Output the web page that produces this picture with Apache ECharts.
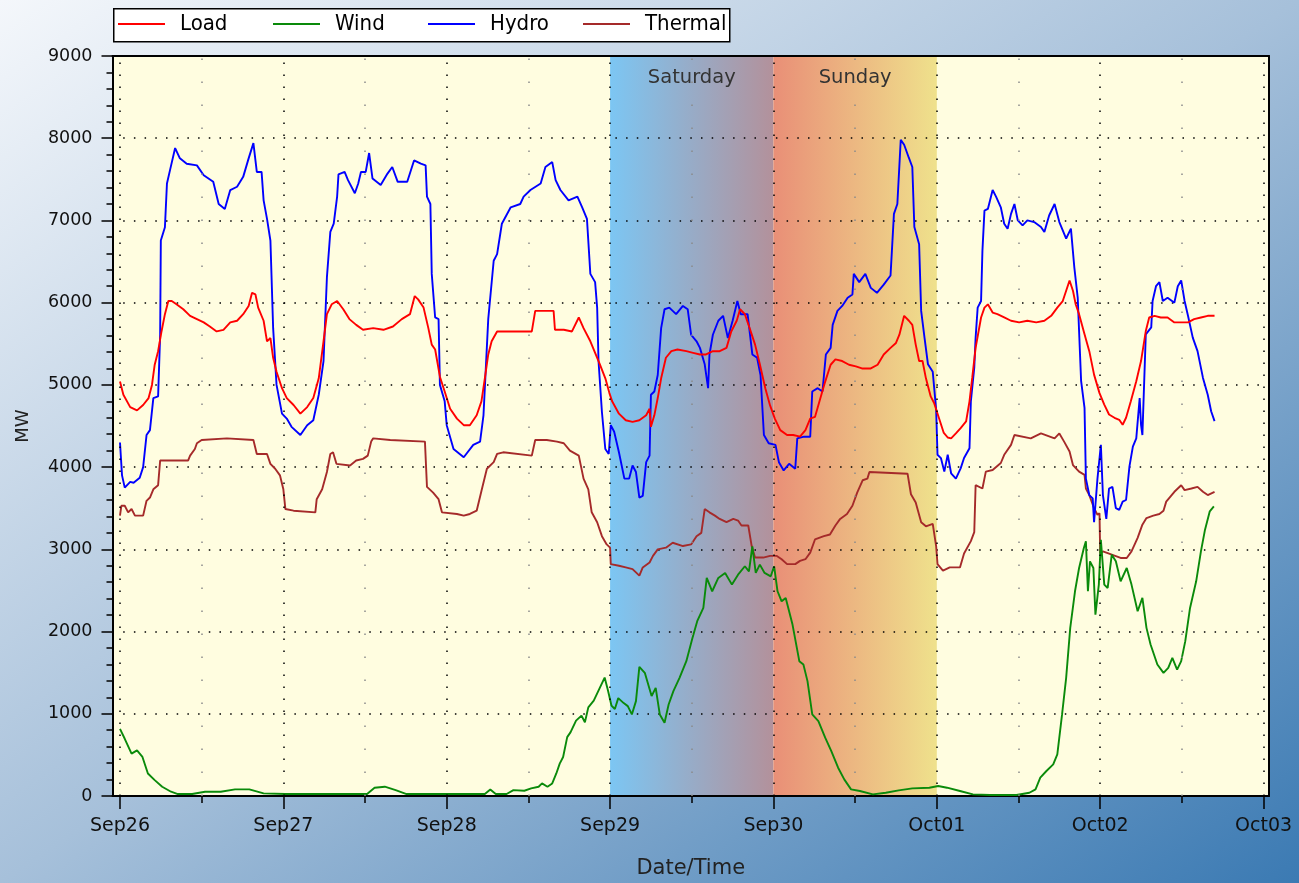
<!DOCTYPE html>
<html><head><meta charset="utf-8">
<script src="https://cdn.jsdelivr.net/npm/echarts@6/dist/echarts.min.js"></script>
<style>
html,body{margin:0;padding:0;width:1299px;height:883px;overflow:hidden;}
#c{width:1299px;height:883px;background:linear-gradient(to bottom right,#f4f7fb 0%,#a6c0da 50%,#3b7ab3 100%);}
</style></head><body><div id="c"></div>
<script>
// hours since Sep26 00:00
const dayTicks = [0,24,48,72,96,120,144,168];
const dayLabels = ['Sep26','Sep27','Sep28','Sep29','Sep30','Oct01','Oct02','Oct03'];
const halfDayTicks = [12,36,60,84,108,132,156];
const weekendBands = [{name:'Saturday',start:72,end:96},{name:'Sunday',start:96,end:120}];
const seriesNames = ['Load','Wind','Hydro','Thermal'];

const loadData = [[0,5040],[0.5,4880],[1.5,4730],[2.5,4690],[3.4,4755],[4.2,4840],[4.7,5000],[5.1,5245],[5.6,5410],[6.1,5650],[6.6,5860],[7.1,6020],[7.6,6020],[8.3,5980],[9.3,5920],[10.3,5840],[11.3,5800],[12.3,5760],[13.2,5710],[14.2,5650],[15.2,5670],[16.2,5760],[17.2,5780],[18.1,5860],[18.9,5960],[19.4,6120],[19.9,6100],[20.3,5940],[21.1,5780],[21.6,5530],[22.1,5570],[22.5,5330],[23.0,5160],[23.8,4960],[24.5,4840],[25.5,4755],[26.5,4650],[27.5,4730],[28.4,4840],[29.2,5080],[29.9,5530],[30.4,5860],[31.1,5980],[31.9,6020],[32.8,5920],[33.7,5800],[34.7,5730],[35.7,5670],[37.2,5690],[38.7,5670],[40.1,5710],[41.4,5800],[42.6,5860],[43.3,6080],[43.8,6040],[44.6,5940],[45.3,5690],[45.8,5490],[46.3,5430],[47.0,5100],[47.7,4920],[48.5,4710],[49.5,4590],[50.5,4510],[51.4,4510],[52.4,4630],[53.1,4800],[53.6,5080],[54.1,5370],[54.6,5530],[55.4,5650],[56.3,5650],[58.3,5650],[60.5,5650],[61.0,5900],[62.2,5900],[63.7,5900],[63.9,5670],[65.2,5670],[66.4,5650],[67.4,5820],[68.1,5690],[69.1,5530],[69.8,5390],[70.5,5250],[71.3,5080],[71.9,4900],[72.3,4800],[73.3,4650],[74.3,4570],[75.3,4550],[76.3,4570],[77.3,4630],[77.8,4710],[78.0,4490],[78.5,4630],[79.0,4840],[79.5,5080],[80.2,5330],[81.0,5410],[81.9,5430],[83.2,5410],[84.2,5390],[85.2,5370],[86.1,5370],[87.1,5410],[88.1,5410],[89.1,5450],[89.8,5650],[90.6,5780],[91.1,5920],[91.8,5860],[92.5,5690],[93.3,5490],[94.0,5250],[94.8,4960],[95.5,4750],[96.2,4590],[97.0,4450],[98.0,4390],[98.9,4390],[99.9,4370],[100.7,4450],[101.4,4590],[102.1,4610],[102.9,4840],[103.6,5040],[104.4,5245],[105.1,5310],[106.1,5290],[107.1,5245],[108.1,5225],[109.0,5200],[110.3,5200],[111.3,5245],[112.2,5370],[113.2,5450],[114.0,5510],[114.5,5610],[115.2,5840],[115.9,5780],[116.4,5730],[116.9,5490],[117.4,5290],[117.9,5290],[118.4,5080],[119.1,4860],[119.6,4780],[120.3,4600],[121.0,4420],[121.6,4360],[122.1,4350],[122.8,4410],[123.5,4475],[124.3,4555],[124.8,4800],[125.2,5085],[125.7,5450],[126.5,5820],[127.0,5940],[127.5,5980],[128.2,5880],[128.9,5860],[129.9,5820],[130.9,5780],[132.1,5760],[133.3,5780],[134.6,5760],[135.8,5780],[136.8,5840],[137.7,5940],[138.5,6020],[139.0,6145],[139.5,6270],[140.0,6145],[140.4,5980],[140.9,5860],[141.7,5615],[142.4,5410],[143.1,5125],[143.9,4900],[144.6,4760],[145.3,4640],[146.1,4600],[146.8,4575],[147.3,4515],[147.8,4600],[148.5,4800],[149.3,5045],[150.0,5290],[150.7,5655],[151.2,5820],[152.0,5840],[152.9,5820],[153.9,5820],[154.9,5760],[155.9,5760],[156.9,5760],[157.8,5800],[158.8,5820],[159.8,5840],[160.8,5840]];

const windData = [[0,817],[0.7,696],[1.7,515],[2.5,555],[3.3,475],[4.1,274],[5.1,193],[6.2,113],[7.5,52],[8.5,24],[10.6,24],[12.5,52],[14.8,52],[16.9,80],[19.0,80],[21.1,32],[24.3,24],[28.5,24],[36.3,24],[37.4,100],[38.9,113],[40.5,72],[42.1,24],[49.4,24],[53.6,24],[54.4,80],[55.2,24],[56.8,24],[57.8,72],[59.4,64],[60.4,92],[61.5,113],[62.0,153],[62.8,113],[63.5,153],[64.1,274],[64.6,394],[65.1,475],[65.7,716],[66.2,777],[67.0,917],[67.8,978],[68.3,897],[68.8,1078],[69.6,1159],[70.4,1300],[71.2,1440],[71.7,1280],[72.2,1100],[72.7,1058],[73.2,1190],[74.0,1130],[74.6,1093],[75.2,992],[75.8,1154],[76.3,1570],[77.1,1498],[78.1,1215],[78.7,1316],[79.3,992],[80.0,891],[80.6,1113],[81.3,1275],[82.2,1437],[83.2,1640],[84.1,1923],[84.8,2126],[85.7,2287],[86.2,2652],[87.0,2490],[87.9,2652],[88.9,2713],[89.9,2571],[90.8,2692],[91.8,2794],[92.4,2733],[92.9,3036],[93.4,2713],[94.0,2814],[94.7,2713],[95.6,2672],[96.1,2794],[96.6,2490],[97.2,2368],[97.8,2409],[98.8,2085],[99.8,1640],[100.4,1599],[101.0,1397],[101.7,992],[102.6,911],[103.6,709],[104.5,547],[105.5,344],[106.4,202],[107.4,81],[108.7,61],[110.6,20],[112.5,40],[114.4,69],[116.4,93],[118.9,101],[120.2,121],[121.5,101],[123.4,61],[125.3,20],[127.8,12],[131.7,12],[133.6,40],[134.5,81],[135.2,223],[136.1,304],[137.1,385],[137.7,506],[138.4,992],[139.0,1437],[139.6,2045],[140.3,2490],[140.9,2773],[141.6,3016],[141.9,3097],[142.2,2490],[142.5,2854],[143.0,2773],[143.3,2206],[143.8,2571],[144.1,3117],[144.6,2571],[145.1,2530],[145.7,2935],[146.3,2854],[147.0,2611],[147.9,2773],[148.6,2571],[149.5,2247],[150.2,2409],[150.8,2045],[151.4,1842],[152.4,1599],[153.3,1498],[154.0,1559],[154.6,1680],[155.3,1538],[155.9,1640],[156.5,1883],[157.2,2287],[158.1,2611],[158.8,2976],[159.4,3239],[160.1,3462],[160.7,3522]];

const hydroData = [[0,4300],[0.3,3900],[0.7,3750],[1.5,3820],[2.0,3810],[2.9,3870],[3.4,4000],[3.9,4390],[4.4,4450],[4.9,4840],[5.6,4860],[5.9,5610],[6.0,6755],[6.6,6918],[6.9,7450],[7.4,7630],[8.1,7880],[8.8,7755],[9.8,7690],[11.3,7670],[12.3,7550],[13.7,7470],[14.5,7200],[15.4,7140],[16.2,7370],[17.2,7410],[18.1,7530],[18.9,7755],[19.6,7940],[20.1,7590],[20.8,7590],[21.1,7245],[21.6,7020],[22.1,6755],[22.5,5690],[23.0,5000],[23.8,4650],[24.5,4590],[25.2,4490],[26.5,4390],[27.5,4510],[28.4,4570],[29.2,4880],[29.9,5290],[30.4,6310],[30.9,6860],[31.4,6960],[31.9,7290],[32.1,7560],[33.0,7590],[33.5,7490],[34.5,7330],[35.0,7450],[35.4,7590],[36.1,7590],[36.6,7820],[37.1,7510],[38.3,7430],[39.3,7570],[40.0,7650],[40.8,7470],[42.2,7470],[43.2,7730],[44.2,7690],[44.9,7670],[45.1,7290],[45.6,7200],[45.8,6350],[46.3,5820],[46.8,5800],[47.0,5000],[47.7,4800],[48.0,4510],[49.0,4220],[50.5,4120],[51.9,4270],[52.9,4310],[53.4,4630],[54.1,5800],[54.9,6510],[55.4,6590],[56.1,6960],[57.4,7160],[58.8,7200],[59.3,7290],[60.3,7370],[61.8,7450],[62.5,7650],[63.5,7710],[64.0,7490],[64.7,7370],[65.9,7245],[67.2,7290],[67.9,7160],[68.6,7020],[69.1,6350],[69.8,6250],[70.1,5940],[70.3,5290],[70.8,4670],[71.3,4220],[71.8,4160],[72.1,4510],[72.6,4430],[73.3,4180],[74.1,3860],[74.8,3860],[75.3,4020],[75.8,3940],[76.3,3630],[76.8,3650],[77.3,4060],[77.8,4140],[78.0,4880],[78.5,4920],[79.0,5120],[79.5,5690],[80.0,5920],[80.7,5940],[81.7,5860],[82.7,5960],[83.4,5920],[83.9,5610],[84.7,5530],[85.2,5450],[85.9,5250],[86.4,4960],[86.6,5370],[87.1,5610],[87.9,5780],[88.6,5840],[89.3,5570],[90.0,5780],[90.7,6020],[91.2,5860],[92.2,5860],[92.9,5370],[93.6,5330],[94.1,5120],[94.6,4390],[95.3,4290],[96.3,4270],[96.8,4060],[97.5,3960],[98.3,4040],[99.2,3980],[99.5,4350],[100.5,4370],[101.4,4370],[101.7,4920],[102.5,4960],[103.2,4920],[103.7,5370],[104.4,5450],[104.7,5730],[105.4,5900],[106.1,5960],[106.9,6060],[107.6,6100],[107.8,6350],[108.6,6250],[109.5,6350],[110.3,6180],[111.2,6120],[112.2,6220],[113.2,6330],[113.4,6630],[113.7,7080],[114.2,7200],[114.7,7980],[115.2,7920],[115.9,7760],[116.4,7650],[116.7,6920],[117.4,6710],[117.7,5900],[118.2,5570],[118.7,5250],[119.4,5160],[119.9,4700],[120.1,4150],[120.6,4110],[121.1,3945],[121.6,4150],[122.1,3925],[122.8,3860],[123.5,3985],[124.0,4110],[124.8,4230],[125.0,4800],[125.5,5210],[125.7,5575],[126.0,5940],[126.5,6020],[126.7,6630],[127.0,7120],[127.5,7140],[128.2,7370],[128.7,7290],[129.4,7160],[129.9,6960],[130.4,6900],[130.9,7080],[131.4,7200],[131.9,7000],[132.6,6940],[133.3,7000],[134.3,6980],[135.3,6920],[135.8,6860],[136.5,7060],[137.3,7200],[138.0,6980],[138.5,6880],[139.0,6780],[139.7,6900],[140.2,6430],[140.7,6060],[141.2,5045],[141.7,4720],[141.9,3860],[142.4,3660],[142.9,3620],[143.1,3330],[143.6,3860],[144.1,4270],[144.4,3660],[144.9,3370],[145.3,3740],[145.8,3760],[146.3,3500],[146.8,3480],[147.3,3580],[147.8,3600],[148.3,4010],[148.8,4250],[149.3,4350],[149.8,4840],[150.0,4515],[150.2,4390],[150.4,4880],[150.7,5615],[151.5,5700],[151.7,6020],[152.2,6200],[152.7,6250],[153.2,6020],[153.9,6060],[154.9,6000],[155.4,6200],[155.9,6270],[156.4,6020],[156.9,5840],[157.6,5575],[158.3,5410],[159.1,5085],[159.8,4880],[160.3,4680],[160.8,4560]];

const thermalData = [[0,3410],[0.2,3530],[0.7,3530],[1.2,3450],[1.7,3490],[2.2,3410],[3.4,3410],[3.9,3590],[4.4,3630],[4.9,3730],[5.6,3780],[5.9,4080],[10.0,4080],[10.3,4140],[11.0,4220],[11.3,4290],[12.0,4330],[15.7,4350],[19.6,4330],[20.1,4160],[21.6,4160],[22.1,4040],[22.8,3980],[23.5,3900],[24.0,3730],[24.3,3490],[25.5,3470],[28.7,3450],[28.9,3610],[29.7,3730],[30.4,3940],[30.9,4160],[31.3,4180],[31.8,4040],[33.8,4020],[34.7,4080],[35.7,4100],[36.4,4140],[36.9,4310],[37.2,4350],[39.7,4330],[44.8,4310],[45.1,3760],[46.0,3690],[46.8,3610],[47.3,3450],[49.5,3430],[50.5,3410],[51.4,3430],[52.4,3470],[53.1,3710],[53.9,3980],[54.9,4060],[55.4,4160],[56.3,4180],[60.5,4140],[61.0,4330],[62.7,4330],[64.2,4310],[65.2,4290],[66.1,4200],[67.4,4140],[68.1,3860],[68.8,3730],[69.3,3450],[70.1,3330],[70.8,3160],[71.5,3060],[72.0,3020],[72.1,2820],[73.3,2800],[74.3,2780],[75.3,2760],[76.3,2680],[76.8,2780],[77.8,2840],[78.3,2920],[79.0,3000],[80.2,3020],[81.2,3080],[82.7,3040],[83.9,3060],[84.7,3160],[85.4,3200],[85.9,3490],[86.6,3450],[87.4,3410],[88.1,3370],[89.1,3330],[90.1,3370],[90.8,3350],[91.3,3290],[92.3,3290],[92.8,3040],[93.3,2900],[94.5,2900],[95.5,2920],[96.5,2920],[97.2,2880],[98.0,2820],[99.2,2820],[99.9,2860],[100.7,2880],[101.4,2960],[102.1,3120],[103.4,3160],[104.3,3180],[105.1,3290],[105.8,3370],[106.8,3430],[107.6,3530],[108.3,3690],[109.1,3840],[109.8,3860],[110.1,3940],[115.7,3920],[116.2,3670],[116.9,3570],[117.7,3330],[118.4,3280],[119.4,3310],[119.9,3040],[120.1,2820],[120.9,2740],[121.9,2780],[123.4,2780],[124.0,2950],[125.0,3100],[125.5,3210],[125.7,3780],[126.7,3740],[127.2,3945],[128.2,3965],[129.4,4050],[129.9,4150],[130.9,4270],[131.4,4390],[133.8,4350],[135.3,4410],[137.3,4350],[138.0,4410],[138.7,4310],[139.5,4190],[140.0,4025],[140.9,3945],[141.7,3905],[141.9,3740],[142.4,3660],[143.1,3500],[143.6,3420],[143.9,3440],[144.0,2950],[144.4,2975],[145.7,2935],[147.0,2895],[147.9,2895],[148.6,2975],[149.5,3140],[150.2,3300],[150.8,3380],[151.8,3410],[152.7,3430],[153.3,3470],[153.7,3580],[154.9,3700],[155.9,3780],[156.4,3720],[157.4,3740],[158.3,3760],[159.1,3700],[159.8,3660],[160.8,3700]];

const F = 'DejaVu Sans';
const FC = '"DejaVu Sans Condensed", "DejaVu Sans"';
const chart = echarts.init(document.getElementById('c'), null, {renderer:'canvas'});
const X_MIN = -1.1, X_MAX = 168.8;
const legendSlot = 155;   // spacing of legend entries
const dotted = (gap) => [1.5, gap];
function lineSeries(name, data, color){
  return {name, type:'line', data, showSymbol:false, symbol:'none', z:3,
    lineStyle:{color, width:1.9}, itemStyle:{color}, emphasis:{disabled:true}, animation:false};
}
const legends = seriesNames.map((n,i)=>({
  left:118 + i*legendSlot, top:13, orient:'horizontal', selectedMode:false, z:6,
  padding:0, itemWidth:47, itemHeight:2, icon:'rect',
  textStyle:{fontSize:22, color:'#000', fontFamily:FC, padding:[0,0,0,10]},
  data:[n]
}));
chart.setOption({
  animation:false,
  backgroundColor:'transparent',
  graphic:[{type:'rect', left:113, top:8, z:5, shape:{width:616, height:33},
    style:{fill:'#fff', stroke:'#000', lineWidth:1.5}}],
  grid:{left:112.5, right:30, top:56, bottom:87, show:true, backgroundColor:'#fffde0', borderWidth:0,
    containLabel:false, outerBoundsMode:'none'},
  legend: legends,
  xAxis:[
    {type:'value', min:X_MIN, max:X_MAX, position:'bottom', z:2,
     axisLine:{show:true, onZero:false, lineStyle:{color:'#000', width:2}},
     axisTick:{show:true, customValues:dayTicks, length:13, lineStyle:{color:'#000', width:1.5}},
     axisLabel:{show:true, customValues:dayTicks, formatter:(v)=>dayLabels[dayTicks.indexOf(v)], fontSize:19, color:'#111', fontFamily:F, margin:21},
     splitLine:{show:false},
     name:'Date/Time', nameLocation:'middle', nameGap:62, nameTextStyle:{fontSize:21, color:'#222', fontFamily:F}},
    {type:'value', min:X_MIN, max:X_MAX, position:'bottom', z:2,
     axisLine:{show:false},
     axisTick:{show:true, customValues:halfDayTicks, length:7, lineStyle:{color:'#000', width:1.5}},
     axisLabel:{show:false}, splitLine:{show:false}},
    {type:'value', min:X_MIN, max:X_MAX, position:'top', z:2,
     axisLine:{show:true, onZero:false, lineStyle:{color:'#000', width:2}},
     axisTick:{show:false}, axisLabel:{show:false}, splitLine:{show:false}}
  ],
  yAxis:[
    {type:'value', min:0, max:9000, interval:1000, position:'left', z:2,
     axisLine:{show:true, onZero:false, lineStyle:{color:'#000', width:2}},
     axisTick:{show:true, length:11, lineStyle:{color:'#000', width:1.5}},
     minorTick:{show:true, splitNumber:5, length:6, lineStyle:{color:'#000', width:1.5}},
     axisLabel:{fontSize:17.5, color:'#111', fontFamily:F, margin:20, formatter:(v)=>String(v)},
     splitLine:{show:true, lineStyle:{color:'#000', width:1.5, type:dotted(9.2)}},
     name:'MW', nameLocation:'middle', nameGap:80, nameRotate:90, nameTextStyle:{fontSize:18, color:'#222', fontFamily:F}},
    {type:'value', min:0, max:9000, interval:1000, position:'right', z:2,
     axisLine:{show:true, onZero:false, lineStyle:{color:'#000', width:2}},
     axisTick:{show:false}, axisLabel:{show:false}, splitLine:{show:false}}
  ],
  series:[
    {name:'bands', type:'line', data:[], z:1, silent:true,
     markArea:{silent:true, label:{show:true, position:'insideTop', distance:12, fontSize:19.5, color:'#333', fontFamily:F},
       data: weekendBands.map((b,i)=>[
         {name:b.name, xAxis:b.start, itemStyle:{color:{type:'linear',x:0,y:0,x2:1,y2:0,
           colorStops: i===0 ? [{offset:0,color:'#7cc6f3'},{offset:1,color:'#b3919b'}] : [{offset:0,color:'#e98f77'},{offset:1,color:'#efe18c'}]}}},
         {xAxis:b.end}])}},
    {name:'gridlines', type:'line', data:[], z:2, silent:true,
     markLine:{silent:true, symbol:['none','none'], label:{show:false},
       data: dayTicks.map(v=>({xAxis:v, lineStyle:{color:'#000', width:1.5, type:dotted(10.5)}}))
         .concat(halfDayTicks.map(v=>({xAxis:v, lineStyle:{color:'#8a8a8a', width:1.5, type:dotted(21.5)}})))}},
    lineSeries('Thermal', thermalData, '#a52a2a'),
    lineSeries('Wind', windData, '#0a8a0a'),
    lineSeries('Hydro', hydroData, '#0000ff'),
    lineSeries('Load', loadData, '#ff0000')
  ]
});
</script></body></html>
